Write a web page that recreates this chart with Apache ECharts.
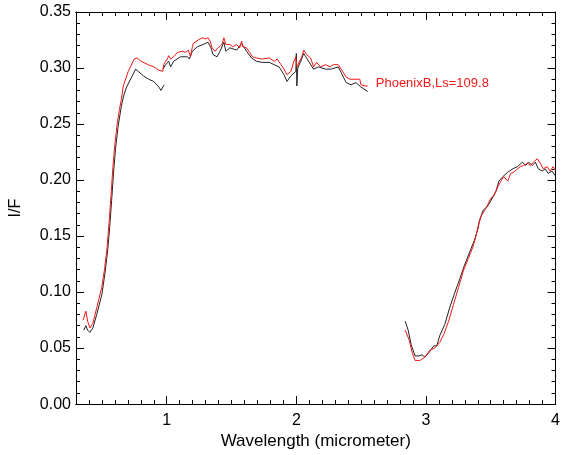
<!DOCTYPE html>
<html>
<head>
<meta charset="utf-8">
<script src="https://cdn.jsdelivr.net/npm/echarts@6/dist/echarts.min.js"></script>
<style>
  html, body { margin: 0; padding: 0; background: #fff; }
  #chart { width: 563px; height: 455px; }
</style>
</head>
<body>
<div id="chart"></div>
<script>
"use strict";

// spectra: [wavelength (micrometer), I/F]
const blackVis = [
  [0.36, 0.066], [0.376, 0.070], [0.39, 0.066], [0.407, 0.064], [0.43, 0.068],
  [0.46, 0.080], [0.50, 0.098], [0.525, 0.118], [0.545, 0.138], [0.56, 0.158],
  [0.575, 0.182], [0.59, 0.207], [0.605, 0.228], [0.625, 0.248], [0.65, 0.266],
  [0.667, 0.275], [0.69, 0.283], [0.73, 0.292], [0.76, 0.299], [0.78, 0.297],
  [0.82, 0.293], [0.86, 0.290], [0.90, 0.288], [0.94, 0.283], [0.955, 0.280],
  [0.97, 0.281], [0.98, 0.285]
];

const blackNir = [
  [0.970, 0.299], [0.992, 0.303], [1.015, 0.306], [1.030, 0.301], [1.053, 0.306],
  [1.106, 0.310], [1.160, 0.310], [1.175, 0.308], [1.198, 0.315], [1.236, 0.319],
  [1.281, 0.321], [1.319, 0.323], [1.342, 0.318], [1.357, 0.312], [1.388, 0.310],
  [1.411, 0.315], [1.441, 0.323], [1.456, 0.315], [1.487, 0.318], [1.540, 0.316],
  [1.578, 0.322], [1.616, 0.315], [1.654, 0.309], [1.692, 0.306], [1.738, 0.305],
  [1.791, 0.305], [1.829, 0.303], [1.867, 0.301], [1.905, 0.294], [1.928, 0.288],
  [1.958, 0.293], [1.996, 0.297], [2.000, 0.313], [2.004, 0.284], [2.011, 0.300],
  [2.034, 0.306], [2.057, 0.313], [2.095, 0.306], [2.133, 0.299], [2.171, 0.301],
  [2.224, 0.299], [2.270, 0.299], [2.323, 0.301], [2.346, 0.296], [2.384, 0.287],
  [2.422, 0.285], [2.460, 0.287], [2.498, 0.283], [2.551, 0.279]
];

const blackIr = [
  [2.840, 0.074], [2.863, 0.066], [2.886, 0.053], [2.916, 0.043], [2.947, 0.043],
  [2.970, 0.044], [2.992, 0.042], [3.023, 0.046], [3.061, 0.052], [3.084, 0.052],
  [3.106, 0.061], [3.145, 0.071], [3.183, 0.086], [3.221, 0.099], [3.259, 0.111],
  [3.297, 0.124], [3.335, 0.135], [3.373, 0.146], [3.403, 0.157], [3.411, 0.163],
  [3.441, 0.173], [3.479, 0.177], [3.517, 0.185], [3.540, 0.190], [3.563, 0.199],
  [3.593, 0.203], [3.631, 0.207], [3.669, 0.210], [3.707, 0.212], [3.745, 0.216],
  [3.768, 0.213], [3.791, 0.216], [3.821, 0.213], [3.844, 0.216], [3.867, 0.210],
  [3.897, 0.208], [3.920, 0.210], [3.943, 0.206], [3.973, 0.208], [3.996, 0.204]
];

const redVisNir = [
  [0.355, 0.075], [0.376, 0.083], [0.39, 0.074], [0.407, 0.068], [0.43, 0.072],
  [0.46, 0.086], [0.498, 0.104], [0.52, 0.120], [0.54, 0.140], [0.555, 0.162],
  [0.57, 0.186], [0.585, 0.212], [0.60, 0.232], [0.62, 0.252], [0.635, 0.263],
  [0.65, 0.272], [0.665, 0.284], [0.703, 0.297], [0.749, 0.308], [0.772, 0.309],
  [0.802, 0.306], [0.856, 0.303], [0.901, 0.301], [0.939, 0.298], [0.97, 0.297],
  [0.977, 0.303], [1.008, 0.309], [1.015, 0.311], [1.030, 0.308], [1.053, 0.310],
  [1.084, 0.314], [1.122, 0.315], [1.144, 0.314], [1.167, 0.316], [1.183, 0.310],
  [1.198, 0.319], [1.205, 0.322], [1.243, 0.325], [1.274, 0.327], [1.297, 0.326],
  [1.319, 0.327], [1.335, 0.324], [1.350, 0.318], [1.373, 0.315], [1.395, 0.318],
  [1.426, 0.321], [1.441, 0.327], [1.456, 0.321], [1.487, 0.321], [1.510, 0.319],
  [1.540, 0.321], [1.563, 0.318], [1.578, 0.324], [1.586, 0.319], [1.616, 0.318],
  [1.639, 0.314], [1.662, 0.310], [1.692, 0.309], [1.738, 0.308], [1.791, 0.309],
  [1.829, 0.306], [1.852, 0.308], [1.882, 0.303], [1.905, 0.299], [1.928, 0.294],
  [1.958, 0.297], [1.981, 0.306], [1.996, 0.310], [2.004, 0.301], [2.019, 0.301],
  [2.042, 0.310], [2.057, 0.316], [2.080, 0.312], [2.110, 0.309], [2.133, 0.301],
  [2.156, 0.305], [2.186, 0.301], [2.224, 0.303], [2.262, 0.301], [2.285, 0.303],
  [2.323, 0.303], [2.346, 0.299], [2.384, 0.292], [2.414, 0.290], [2.452, 0.290],
  [2.490, 0.290], [2.498, 0.285], [2.529, 0.284], [2.551, 0.284]
];

const redIr = [
  [2.840, 0.066], [2.871, 0.057], [2.894, 0.046], [2.916, 0.039], [2.954, 0.039],
  [2.992, 0.042], [3.030, 0.048], [3.068, 0.050], [3.106, 0.055], [3.137, 0.062],
  [3.175, 0.074], [3.213, 0.089], [3.251, 0.104], [3.289, 0.119], [3.327, 0.130],
  [3.365, 0.141], [3.388, 0.151], [3.403, 0.159], [3.426, 0.168], [3.464, 0.175],
  [3.502, 0.184], [3.525, 0.186], [3.555, 0.194], [3.578, 0.199], [3.601, 0.203],
  [3.631, 0.199], [3.654, 0.206], [3.677, 0.207], [3.707, 0.210], [3.730, 0.212],
  [3.753, 0.213], [3.783, 0.215], [3.806, 0.213], [3.829, 0.216], [3.859, 0.219],
  [3.882, 0.215], [3.905, 0.210], [3.935, 0.212], [3.958, 0.208], [3.981, 0.212],
  [4.0, 0.208]
];

const xMajorTicks = [1, 2, 3, 4];
const annotation = "PhoenixB,Ls=109.8";

// minor x ticks every 0.1
const xMinorTicks = [];
for (let i = 4; i < 40; i++) {
  if (i % 10 !== 0) xMinorTicks.push(i / 10);
}

const FONT = "'Liberation Sans', Arial, Helvetica, sans-serif";
const RED = "#f01818";
const BLACK = "#222222";

const chart = echarts.init(document.getElementById("chart"));

function xAxisOf(position, ticks, len, withLabels) {
  return {
    type: "value",
    position: position,
    min: 0.3,
    max: 4,
    axisLine: { show: true, onZero: false, lineStyle: { color: "#000", width: 1 } },
    axisTick: { show: true, inside: true, length: len, customValues: ticks, lineStyle: { color: "#000" } },
    axisLabel: withLabels ? {
      show: true, customValues: xMajorTicks, margin: 8,
      color: "#000", fontSize: 16, fontFamily: FONT
    } : { show: false },
    splitLine: { show: false },
    name: withLabels ? "Wavelength (micrometer)" : "",
    nameLocation: "middle",
    nameGap: 27,
    nameTextStyle: { color: "#000", fontSize: 17, fontFamily: FONT }
  };
}

function yAxisOf(position, withLabels) {
  return {
    type: "value",
    position: position,
    min: 0,
    max: 0.35,
    interval: 0.05,
    axisLine: { show: true, onZero: false, lineStyle: { color: "#000", width: 1 } },
    axisTick: { show: true, inside: true, length: 8, lineStyle: { color: "#000" } },
    minorTick: { show: true, splitNumber: 5, length: 4, lineStyle: { color: "#000" } },
    axisLabel: withLabels ? {
      show: true, margin: 5, color: "#000", fontSize: 16, fontFamily: FONT,
      formatter: v => v.toFixed(2)
    } : { show: false },
    splitLine: { show: false },
    name: withLabels ? "I/F" : "",
    nameLocation: "middle",
    nameGap: 52,
    nameTextStyle: { color: "#000", fontSize: 16, fontFamily: FONT }
  };
}

function line(data, color, extra) {
  return Object.assign({
    type: "line",
    data: data,
    xAxisIndex: 0,
    yAxisIndex: 0,
    showSymbol: false,
    symbol: "none",
    lineStyle: { color: color, width: 1 },
    itemStyle: { color: color },
    z: 3
  }, extra || {});
}

const option = {
  animation: false,
  backgroundColor: "#fff",
  grid: { left: 75, right: 2, top: 12, bottom: 48, containLabel: false },
  xAxis: [
    xAxisOf("bottom", xMajorTicks, 8, true),
    xAxisOf("bottom", xMinorTicks, 4, false),
    xAxisOf("top", xMajorTicks, 8, false),
    xAxisOf("top", xMinorTicks, 4, false)
  ],
  yAxis: [
    yAxisOf("left", true),
    yAxisOf("right", false)
  ],
  series: [
    line(blackVis, BLACK),
    line(blackNir, BLACK),
    line(blackIr, BLACK),
    line(redVisNir, RED, {
      endLabel: {
        show: true,
        formatter: () => annotation,
        color: RED,
        fontSize: 13,
        fontFamily: FONT,
        distance: 8,
        offset: [0, -3]
      }
    }),
    line(redIr, RED)
  ]
};

chart.setOption(option);
</script>
</body>
</html>
